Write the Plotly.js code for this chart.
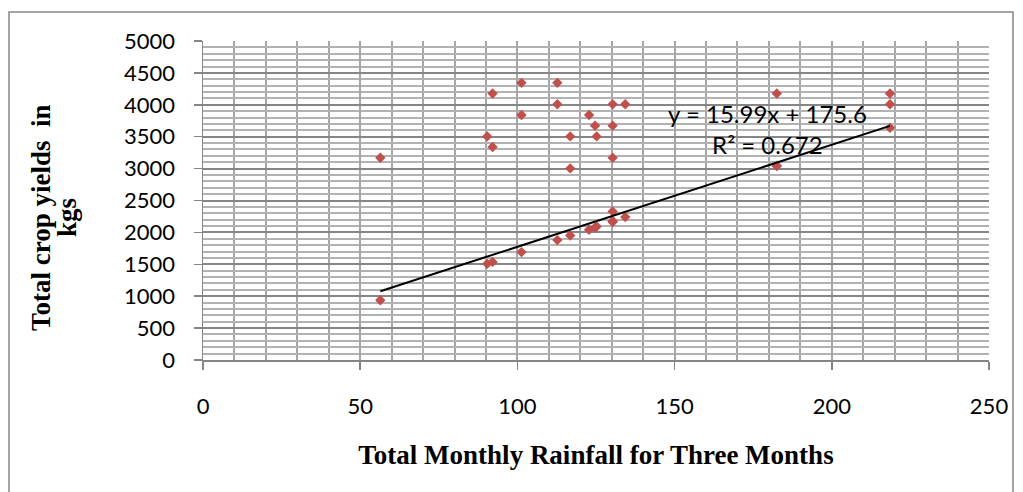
<!DOCTYPE html>
<html>
<head>
<meta charset="utf-8">
<script src="https://cdn.plot.ly/plotly-3.0.1.min.js"></script>
<style>
  html, body { margin: 0; padding: 0; background: #fff; }
  #chart { width: 1023px; height: 492px; }
</style>
</head>
<body>
<div id="chart"></div>
<script>
// Total monthly rainfall (three months) vs total crop yield (kgs)
const rainfall = [56.4, 56.4, 90.4, 90.4, 92.1, 92.1, 92.1, 101.3, 101.3, 101.3,
                  112.7, 112.7, 112.7, 116.8, 116.8, 116.8, 122.8, 122.8, 124.7, 124.7,
                  125.2, 125.2, 130.3, 130.3, 130.3, 130.3, 130.3, 130.3, 134.3, 134.3,
                  182.5, 182.5, 182.5, 218.5, 218.5, 218.5];
const cropYield = [937, 3170, 1507, 3505, 1538, 3339, 4176, 1691, 3841, 4344,
                   1879, 4008, 4344, 1951, 3003, 3505, 2041, 3841, 2077, 3673,
                   2093, 3505, 2162, 2180, 4008, 2328, 3171, 3673, 2240, 4008,
                   3045, 3040, 4176, 3640, 4008, 4176];
// Linear trendline as reported on the chart
const trendSlope = 15.99;
const trendIntercept = 175.6;
const trendR2 = 0.672;
const xTickVals = [0, 50, 100, 150, 200, 250];
const yTickVals = [0, 500, 1000, 1500, 2000, 2500, 3000, 3500, 4000, 4500, 5000];
const xMinorStep = 10;
const yMinorStep = 100;
const xTitle = 'Total Monthly Rainfall for Three Months';
const yTitleLines = ['Total crop yields  in', 'kgs'];

const xMin = Math.min(...rainfall), xMax = Math.max(...rainfall);
const trendX = [xMin, xMax];
const trendY = trendX.map(v => trendSlope * v + trendIntercept);
const xRange = [xTickVals[0], xTickVals[xTickVals.length - 1]];
const yRange = [yTickVals[0], yTickVals[yTickVals.length - 1]];
const yMinorVals = [];
for (let v = yRange[0]; v <= yRange[1]; v += yMinorStep) yMinorVals.push(v);
const xMinorVals = [];
for (let v = xRange[0]; v <= xRange[1]; v += xMinorStep) xMinorVals.push(v);

const tickFont = { family: 'Lato, "Open Sans", sans-serif', size: 22, color: '#000' };
const titleFont = { family: '"Liberation Serif", "Times New Roman", serif', size: 27, color: '#000', weight: 'bold' };

const data = [
  {
    type: 'scatter', mode: 'markers', x: rainfall, y: cropYield,
    xaxis: 'x', yaxis: 'y',
    marker: { color: '#C0504D', size: 8, symbol: 'diamond' },
    hoverinfo: 'x+y', showlegend: false
  },
  {
    type: 'scatter', mode: 'lines', x: trendX, y: trendY,
    xaxis: 'x', yaxis: 'y',
    line: { color: '#000', width: 2 }, hoverinfo: 'skip', showlegend: false
  },
  { type: 'scatter', mode: 'markers', x: [], y: [], xaxis: 'x2', yaxis: 'y2', showlegend: false, hoverinfo: 'skip' }
];

const layout = {
  width: 1023, height: 492,
  margin: { l: 203, r: 34, t: 41, b: 132 },
  paper_bgcolor: '#fff', plot_bgcolor: '#fff',
  showlegend: false,
  // fine (minor) grid axes carrying the data
  xaxis: {
    range: xRange, tickmode: 'array', tickvals: xMinorVals, ticktext: xMinorVals.map(() => ''),
    showgrid: true, gridcolor: '#a6a6a6', gridwidth: 2,
    showticklabels: false, ticks: '', showline: false, zeroline: false
  },
  yaxis: {
    range: yRange, tickmode: 'array', tickvals: yMinorVals, ticktext: yMinorVals.map(() => ''),
    showgrid: true, gridcolor: '#b2b2b2', gridwidth: 2,
    showticklabels: false, ticks: '', showline: false, zeroline: false
  },
  // labelled (major) axes
  xaxis2: {
    overlaying: 'x', anchor: 'y2', side: 'bottom',
    range: xRange, tickmode: 'array', tickvals: xTickVals, ticktext: xTickVals.map(String),
    showgrid: true, gridcolor: '#a6a6a6', gridwidth: 2,
    showline: true, linecolor: '#868686', linewidth: 1.5,
    ticks: 'outside', ticklen: 8, tickcolor: '#868686', tickwidth: 1.5,
    tickfont: tickFont, ticklabelstandoff: 18,
    zeroline: false,
    title: { text: xTitle, font: titleFont, standoff: 27 }
  },
  yaxis2: {
    overlaying: 'y', anchor: 'x2', side: 'left',
    range: yRange, tickmode: 'array', tickvals: yTickVals, ticktext: yTickVals.map(String),
    showgrid: true, gridcolor: '#868686', gridwidth: 2,
    showline: true, linecolor: '#868686', linewidth: 1.5,
    ticks: 'outside', ticklen: 8, tickcolor: '#868686', tickwidth: 1.5,
    tickfont: tickFont, ticklabelstandoff: 14,
    zeroline: false
  },
  annotations: [
    {
      x: 179.4, y: 3626, xref: 'x', yref: 'y', showarrow: false,
      text: 'y = ' + trendSlope + 'x + ' + trendIntercept + '<br>R² = ' + trendR2,
      font: { family: 'Lato, "Open Sans", sans-serif', size: 24, color: '#000' },
      align: 'center', xanchor: 'center', yanchor: 'middle'
    },
    {
      x: (41 - 203) / 786, y: (360 - 218) / 319, xref: 'paper', yref: 'paper',
      text: yTitleLines[0], textangle: -90, showarrow: false, font: titleFont,
      xanchor: 'center', yanchor: 'middle'
    },
    {
      x: (67 - 203) / 786, y: (360 - 218) / 319, xref: 'paper', yref: 'paper',
      text: yTitleLines[1], textangle: -90, showarrow: false, font: titleFont,
      xanchor: 'center', yanchor: 'middle'
    }
  ],
  shapes: [
    {
      type: 'rect', xref: 'paper', yref: 'paper',
      x0: (9 - 203) / 786, x1: (1013 - 203) / 786,
      y0: (360 - 520) / 319, y1: (360 - 12) / 319,
      line: { color: '#868686', width: 1.5 }, fillcolor: 'rgba(0,0,0,0)', layer: 'below'
    }
  ]
};

Plotly.newPlot('chart', data, layout, { staticPlot: true, displayModeBar: false });
</script>
</body>
</html>
